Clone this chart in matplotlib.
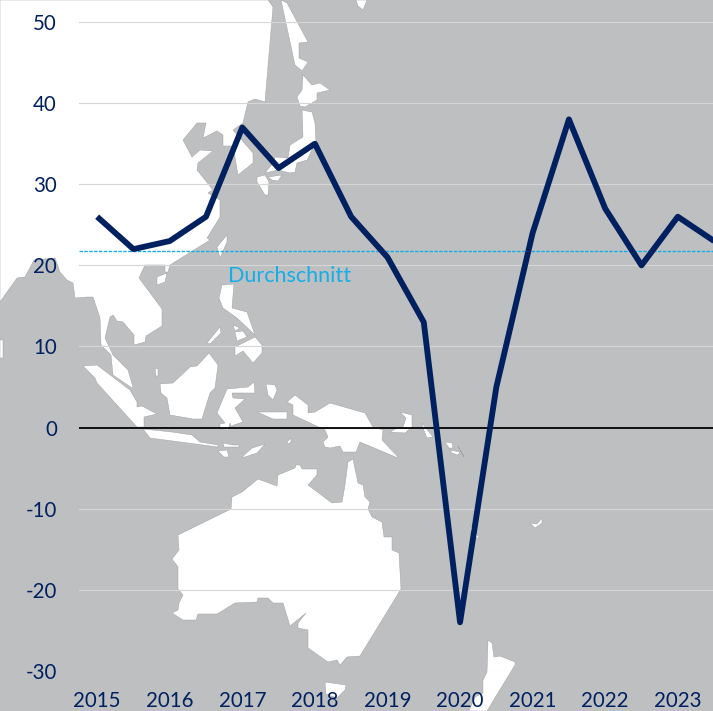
import matplotlib
matplotlib.use('Agg')
import matplotlib.pyplot as plt
from matplotlib.patches import Polygon

plt.rcParams['font.family'] = ['Lato', 'DejaVu Sans']

# half-yearly values, labels on every second point
values = [26, 22, 23, 26, 37, 32, 35, 26, 21, 13, -24, 5, 24, 38, 27, 20, 26, 23]
years = ['2015', '2016', '2017', '2018', '2019', '2020', '2021', '2022', '2023']
yticks = [-30, -20, -10, 0, 10, 20, 30, 40, 50]
average = 21.8

NAVY = '#002060'
BLUE = '#14AEEA'
SEA = '#BEBFC1'

# background map, outlines traced in image pixels
asia = [(0, 0), (268, 0), (273, 7), (265, 102), (255, 99), (248, 102), (243, 123), (233, 130), (240, 138),
        (253, 153), (253, 163), (238, 175), (235, 157), (233, 146), (223, 146), (223, 135), (217, 131),
        (203, 138), (206, 123), (197, 123), (183, 140), (192, 157), (200, 150), (213, 151), (198, 163),
        (197, 170), (213, 190), (208, 193), (220, 200), (220, 217), (207, 238), (210, 240), (170, 265),
        (168, 272), (165, 272), (165, 265), (145, 265), (139, 278), (162, 309), (162, 326), (146, 336),
        (145, 342), (134, 345), (134, 335), (123, 322), (117, 321), (113, 315), (110, 317), (105, 338),
        (113, 355), (128, 370), (133, 387), (132, 388), (113, 375), (111, 355), (101, 345), (100, 318),
        (93, 297), (87, 297), (75, 298), (73, 283), (67, 280), (60, 272), (55, 258), (34, 260), (25, 277),
        (17, 278), (0, 302)]
sakhalin = [(281, 0), (287, 3), (308, 42), (299, 43), (299, 58), (308, 62), (302, 71), (295, 65)]
hokkaido = [(303, 75), (312, 85), (320, 83), (330, 90), (317, 93), (317, 100), (305, 107), (300, 106),
            (297, 97), (302, 90)]
honshu = [(302, 110), (312, 112), (315, 123), (316, 142), (307, 160), (297, 163), (295, 172), (290, 173),
          (278, 170), (265, 173), (273, 163), (275, 157), (288, 158), (290, 145), (303, 137)]
kyushu = [(257, 177), (265, 175), (269, 182), (268, 195), (265, 195), (257, 182)]
shikoku = [(268, 177), (282, 175), (278, 181), (272, 180)]
taiwan = [(227, 235), (227, 242), (220, 258), (217, 247)]
hainan = [(157, 277), (167, 273), (165, 282), (157, 285)]
luzon = [(222, 285), (234, 284), (232, 308), (247, 312), (255, 335), (237, 318), (223, 308), (219, 298)]
palawan = [(220, 327), (221, 333), (210, 344), (207, 343)]
mindoro = [(233, 325), (240, 328), (235, 331)]
visayas = [(235, 332), (243, 331), (247, 337), (237, 341)]
mindanao = [(235, 347), (255, 337), (262, 345), (262, 353), (253, 363), (243, 351), (235, 356)]
borneo = [(160, 384), (173, 383), (190, 367), (197, 366), (209, 353), (218, 365), (215, 388), (210, 393),
          (202, 419), (193, 419), (170, 415), (167, 398), (161, 393)]
natuna = [(155, 368), (158, 369), (158, 376), (156, 376)]
sumatra = [(83, 366), (97, 365), (130, 390), (137, 402), (137, 407), (142, 406), (157, 414), (144, 417),
           (144, 427), (137, 427), (97, 383), (95, 378)]
java = [(143, 429), (172, 432), (192, 435), (200, 442), (218, 445), (218, 447), (150, 438)]
sunda1 = [(223, 443), (233, 445), (239, 445), (239, 447), (224, 447)]
sunda2 = [(218, 451), (227, 450), (229, 457), (224, 457)]
timor = [(252, 448), (265, 444), (257, 453), (245, 457), (242, 457)]
sunda3 = [(287, 442), (291, 438), (291, 442), (288, 444)]
sulawesi = [(227, 389), (248, 387), (254, 382), (255, 393), (232, 393), (233, 398), (245, 399), (235, 408),
            (243, 422), (231, 426), (230, 423), (228, 430), (220, 429), (220, 424), (225, 423), (217, 413)]
halmahera = [(266, 384), (275, 385), (277, 390), (273, 400), (268, 395)]
seram = [(257, 412), (287, 412), (287, 419), (273, 419)]
guinea = [(287, 402), (295, 395), (308, 405), (308, 413), (315, 412), (330, 403), (365, 413), (373, 427),
          (383, 430), (382, 440), (398, 457), (398, 458), (360, 442), (356, 452), (343, 452), (340, 446),
          (330, 448), (325, 447), (323, 442), (328, 437), (325, 430), (293, 415), (293, 405)]
britain = [(400, 412), (412, 415), (412, 427), (405, 433), (390, 432), (397, 428), (403, 427), (406, 418)]
solomon1 = [(422, 423), (433, 437), (427, 438), (423, 428)]
solomon2 = [(445, 442), (452, 443), (453, 448), (449, 448)]
solomon3 = [(450, 450), (460, 452), (458, 455), (452, 453)]
solomon4 = [(458, 446), (464, 457), (460, 450)]
australia = [(178, 535), (231, 509), (232, 497), (242, 492), (258, 479), (277, 486), (278, 475), (295, 468),
             (296, 465), (300, 465), (302, 469), (317, 469), (317, 475), (308, 485), (332, 503), (342, 502),
             (345, 485), (348, 462), (353, 459), (358, 483), (363, 485), (365, 497), (370, 502), (368, 509),
             (372, 517), (382, 522), (384, 537), (392, 537), (392, 550), (399, 553), (401, 589), (360, 656),
             (347, 657), (340, 665), (337, 660), (328, 662), (308, 648), (308, 630), (298, 628), (298, 623),
             (306, 613), (290, 626), (283, 603), (273, 603), (268, 598), (258, 598), (257, 602), (235, 603),
             (217, 614), (198, 614), (196, 620), (183, 620), (172, 613), (178, 610), (179, 603), (183, 595),
             (178, 589), (178, 567), (172, 559), (179, 550)]
tasmania = [(325, 682), (346, 685), (345, 690), (337, 698), (326, 694)]
zealand = [(488, 640), (492, 643), (494, 657), (500, 656), (515, 662), (515, 665), (487, 711), (469, 711),
           (475, 697), (483, 693), (483, 680), (487, 672)]
caledonia = [(530, 523), (537, 524), (542, 518), (542, 523), (535, 528)]
vanuatu = [(470, 525), (480, 539), (475, 537), (471, 533)]
lanka = [(0, 340), (3, 340), (3, 358), (0, 358)]
kuril = [(356, 0), (367, 0), (363, 10), (358, 6)]
land = [asia, sakhalin, hokkaido, honshu, kyushu, shikoku, taiwan, hainan, luzon, palawan, mindoro, visayas,
        mindanao, borneo, natuna, sumatra, java, sunda1, sunda2, timor, sunda3, sulawesi, halmahera, seram,
        guinea, britain, solomon1, solomon2, solomon3, solomon4, australia, tasmania, zealand, caledonia,
        vanuatu, lanka, kuril]

fig = plt.figure(figsize=(7.13, 7.11), dpi=100)

bg = fig.add_axes([0, 0, 1, 1])
bg.set_xlim(0, 713)
bg.set_ylim(711, 0)
bg.set_facecolor(SEA)
bg.set_xticks([])
bg.set_yticks([])
for s in bg.spines.values():
    s.set_visible(False)
for shape in land:
    bg.add_patch(Polygon(shape, closed=True, facecolor='white', edgecolor='#9A9A9A', linewidth=0.3))

# chart sits on top of the map, y pixels 22..671 = 50..-30
ax = fig.add_axes([79 / 713, (711 - 671) / 711, 634 / 713, 649 / 711])
ax.patch.set_visible(False)
ax.set_xlim(-0.5, 16.97)
ax.set_ylim(-30, 50)
for s in ax.spines.values():
    s.set_visible(False)

x = list(range(len(values)))
ax.set_yticks(yticks)
ax.set_yticklabels([str(v) for v in yticks])
ax.set_xticks(x[::2])
ax.set_xticklabels(years)
ax.tick_params(axis='both', length=0, labelsize=14.8, labelcolor=NAVY)
ax.tick_params(axis='y', pad=16)
ax.tick_params(axis='x', pad=14.5)
ax.grid(axis='y', color='#D6D6D6', linewidth=0.8, zorder=1)
ax.set_axisbelow(True)

ax.axhline(0, color='black', linewidth=1.3, zorder=2)
ax.axhline(average, color=BLUE, linewidth=1.0, linestyle=(0, (2.5, 1)), zorder=2)
ax.plot(x, values, color=NAVY, linewidth=4.2, solid_joinstyle='round', solid_capstyle='butt', zorder=3)
ax.text(3.6, 18.7, 'Durchschnitt', color=BLUE, fontsize=15.6, va='center', ha='left')

fig.savefig('out.png', dpi=100)
